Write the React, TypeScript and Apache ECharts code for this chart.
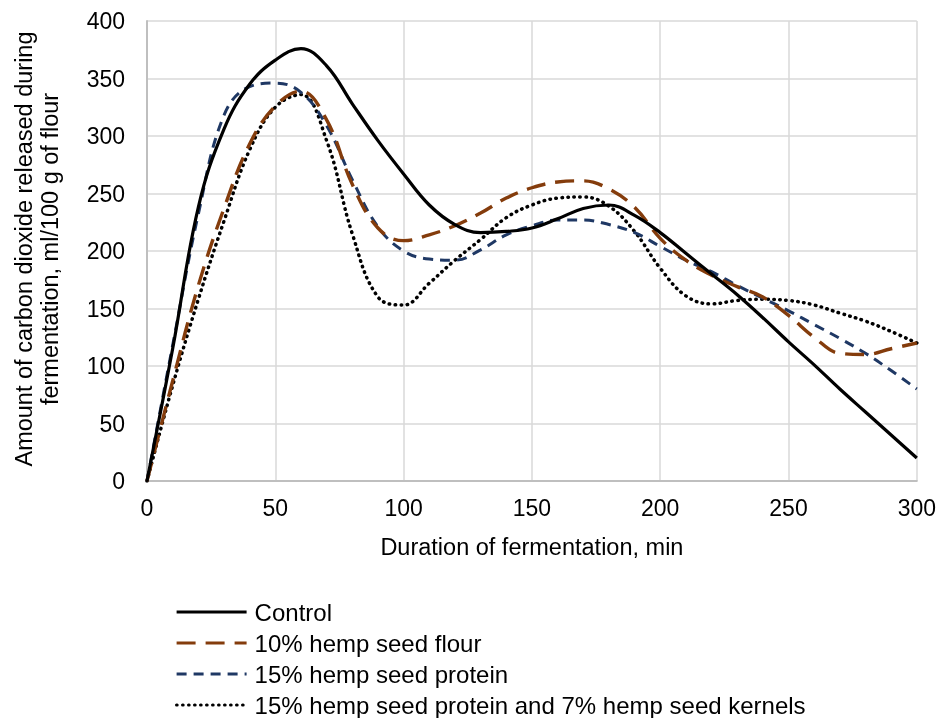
import React, { useEffect, useRef } from "react";
import * as echarts from "echarts";

const times = [0, 10, 20, 30, 40, 50, 60, 70, 80, 90, 100, 110, 120, 130, 140, 150, 160, 170, 180, 190, 200, 210, 220, 230, 240, 250, 260, 270, 280, 290, 300];
const control = [0, 115, 238, 306, 345, 366, 376, 361, 328, 296, 267, 240, 223, 216, 217, 220, 228, 237, 240, 231, 216, 198, 180, 162, 142, 121, 101, 80, 60, 40, 20];
const hempFlour = [0, 87, 170, 237, 293, 326, 339, 314, 258, 220, 209, 214, 222, 233, 246, 255, 260, 261, 254, 238, 211, 192, 179, 169, 160, 144, 125, 111, 110, 115, 120];
const hempProtein = [0, 118, 232, 318, 343, 346, 338, 309, 262, 221, 200, 193, 192, 201, 214, 222, 227, 227, 223, 216, 204, 192, 182, 170, 159, 148, 136, 124, 111, 96, 80];
const proteinKernels = [0, 83, 158, 226, 288, 325, 336, 296, 215, 160, 153, 172, 192, 210, 229, 240, 246, 247, 239, 217, 185, 161, 154, 157, 158, 157, 153, 146, 139, 130, 120];

const seriesNames = [
  "Control",
  "10% hemp seed flour",
  "15% hemp seed protein",
  "15% hemp seed protein and 7% hemp seed kernels",
];
const xTitle = "Duration of fermentation, min";
const yTitle = "Amount of carbon dioxide released during\nfermentation, ml/100 g of flour";

const FONT = "Liberation Sans, Arial, sans-serif";

export default function App() {
  const ref = useRef<HTMLDivElement>(null);
  useEffect(() => {
    if (!ref.current) return;
    const chart = echarts.init(ref.current, null, { renderer: "svg" });
    const pairs = (ys: number[]) => times.map((t, i) => [t, ys[i]]);
    const styles = [
      { color: "#000000", width: 3.2, type: "solid" as any, cap: "butt" },
      { color: "#843C0C", width: 3.4, type: [19, 10] as any, cap: "butt" },
      { color: "#1F3864", width: 3, type: [10, 7] as any, cap: "butt" },
      { color: "#000000", width: 3.5, type: [0.5, 5.5] as any, cap: "round" },
    ];
    const all = [control, hempFlour, hempProtein, proteinKernels];
    chart.setOption({
      animation: false,
      textStyle: { fontFamily: FONT },
      grid: { left: 147, right: 22, top: 21, bottom: 237, containLabel: false },
      xAxis: {
        type: "value",
        min: 0,
        max: 300,
        interval: 50,
        axisLine: { show: true, lineStyle: { color: "#BFBFBF", width: 2 } },
        axisTick: { show: false },
        axisLabel: { color: "#000", fontSize: 23, fontFamily: FONT, margin: 15 },
        splitLine: { show: true, lineStyle: { color: "#D9D9D9", width: 1.5 } },
        name: xTitle,
        nameLocation: "middle",
        nameGap: 54,
        nameTextStyle: { color: "#000", fontSize: 23.5, fontFamily: FONT },
      },
      yAxis: {
        type: "value",
        min: 0,
        max: 400,
        interval: 50,
        axisLine: { show: true, lineStyle: { color: "#BFBFBF", width: 2 } },
        axisTick: { show: false },
        axisLabel: { color: "#000", fontSize: 23, fontFamily: FONT, margin: 22 },
        splitLine: { show: true, lineStyle: { color: "#D9D9D9", width: 1.5 } },
      },
      legend: {
        show: true,
        orient: "vertical",
        left: 175,
        top: 600,
        height: 118,
        padding: 0,
        itemWidth: 70,
        itemHeight: 14,
        itemGap: 7,
        itemStyle: { opacity: 0 },
        lineStyle: { width: 3.2 },
        textStyle: { color: "#000", fontSize: 24, lineHeight: 24, fontFamily: FONT, padding: [0, 0, 0, 3] },
        data: seriesNames,
      },
      graphic: [
        {
          type: "text",
          x: 37,
          y: 249,
          rotation: Math.PI / 2,
          style: {
            text: yTitle,
            fill: "#000",
            font: `23.5px ${FONT}`,
            textAlign: "center",
            textVerticalAlign: "middle",
            lineHeight: 26,
          } as any,
        },
      ],
      series: all.map((ys, i) => ({
        name: seriesNames[i],
        type: "line",
        data: pairs(ys),
        smooth: 0.4,
        symbol: "none",
        showSymbol: false,
        lineStyle: styles[i],
        itemStyle: { color: styles[i].color },
        z: 10 - i,
      })),
    });
    return () => chart.dispose();
  }, []);
  return <div ref={ref} style={{ position: "fixed", left: 0, top: 0, width: 939, height: 718 }} />;
}
